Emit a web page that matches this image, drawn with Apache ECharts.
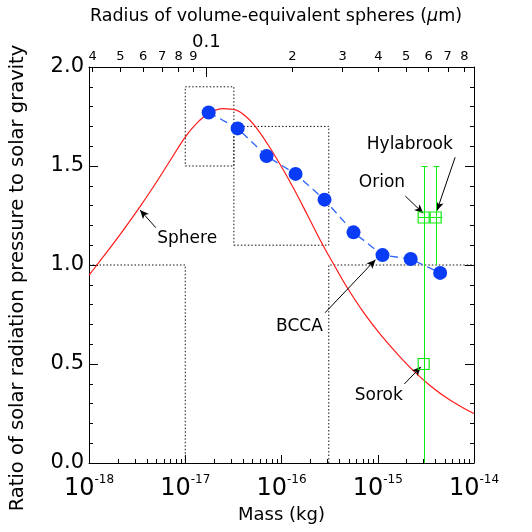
<!DOCTYPE html>
<html>
<head>
<meta charset="utf-8">
<script src="https://cdn.jsdelivr.net/npm/echarts@6.0.0/dist/echarts.min.js"></script>
<style>
html, body { margin: 0; padding: 0; background: #fff; }
#chart { width: 532px; height: 532px; }
</style>
</head>
<body>
<div id="chart"></div>
<script>
// sphere curve (mass in kg, ratio)
var sphereMass = [1.0e-18, 1.21e-18, 2.11e-18, 3.39e-18, 4.67e-18, 6.92e-18, 1.03e-17, 1.41e-17,
    1.73e-17, 2.47e-17, 3.39e-17, 4.27e-17, 5.24e-17, 7.19e-17, 9.89e-17, 1.36e-16, 1.87e-16,
    2.56e-16, 3.52e-16, 4.83e-16, 7.18e-16, 1.07e-15, 1.59e-15, 2.36e-15, 3.51e-15, 5.22e-15,
    7.74e-15, 1.0e-14];
var sphereRatio = [0.949, 1.0, 1.155, 1.295, 1.395, 1.525, 1.655, 1.73,
    1.765, 1.79, 1.782, 1.75, 1.705, 1.61, 1.5, 1.38, 1.25,
    1.12, 1.0, 0.885, 0.758, 0.648, 0.552, 0.465, 0.39, 0.328,
    0.278, 0.25];

// BCCA aggregates
var bccaMass = [1.75e-17, 3.5e-17, 7.0e-17, 1.4e-16, 2.8e-16, 5.6e-16, 1.12e-15, 2.2e-15, 4.45e-15];
var bccaRatio = [1.77, 1.69, 1.55, 1.46, 1.33, 1.165, 1.05, 1.03, 0.96];

// meteoroid estimates
var targetNames = ['Orion', 'Hylabrook', 'Sorok'];
var targetMass = [3.0e-15, 4.0e-15, 3.0e-15];
var targetRatio = [1.24, 1.24, 0.5];
var targetLow = [0, 1.0, null];
var targetHigh = [1.5, 1.5, null];
var targetMassLow = [2.65e-15, 3.55e-15, null];
var targetMassHigh = [3.5e-15, 4.7e-15, null];

// dotted regions
var regionA_mass = [1e-18, 1e-17, 1e-17];
var regionA_ratio = [1.0, 1.0, 0];
var boxB_mass = [1e-17, 3.2e-17, 3.2e-17, 1e-17, 1e-17];
var boxB_ratio = [1.5, 1.5, 1.9, 1.9, 1.5];
var boxC_mass = [3.2e-17, 3.1e-16, 3.1e-16, 3.2e-17, 3.2e-17];
var boxC_ratio = [1.1, 1.1, 1.7, 1.7, 1.1];
var regionD_mass = [3.1e-16, 3.1e-16, 1e-14];
var regionD_ratio = [0, 1.0, 1.0];

// axes
var massDecades = [-18, -17, -16, -15, -14];
var radiusTicks = [0.04, 0.05, 0.06, 0.07, 0.08, 0.09, 0.1, 0.2, 0.3, 0.4, 0.5, 0.6, 0.7, 0.8];

// annotations [text, textX, textY, fromX, fromY, toX, toY]  (x = log10 mass)
var notes = [
    ['Sphere', -16.98, 1.131, -17.305, 1.188, -17.47, 1.278],
    ['BCCA', -15.814, 0.688, -15.547, 0.759, -15.023, 1.027],
    ['Orion', -14.956, 1.414, -14.713, 1.348, -14.527, 1.261],
    ['Hylabrook', -14.667, 1.606, -14.196, 1.544, -14.386, 1.274],
    ['Sorok', -14.989, 0.343, -14.724, 0.399, -14.551, 0.486]
];

var FONT = 'DejaVu Sans';
var GREEN = '#10ec10';

function lg(v) { return Math.log10(v); }
function pairs(xs, ys) {
    return xs.map(function(x, i) { return [lg(x), ys[i]]; });
}
function crisp(v) { return Math.round(v) + 0.5; }

var minorMass = [];
massDecades.slice(0, -1).forEach(function(d) {
    for (var k = 2; k <= 9; k++) minorMass.push(d + lg(k));
});

var errData = [], hbarData = [];
targetNames.forEach(function(n, i) {
    if (targetLow[i] != null) errData.push([lg(targetMass[i]), targetLow[i], targetHigh[i]]);
    if (targetMassLow[i] != null) hbarData.push([lg(targetMassLow[i]), lg(targetMassHigh[i]), targetRatio[i]]);
});

var myChart = echarts.init(document.getElementById('chart'));

function dotted(name, xs, ys) {
    return {
        name: name, type: 'line', data: pairs(xs, ys), symbol: 'none',
        lineStyle: { color: '#111', width: 1, type: [1.5, 2] },
        silent: true, z: 1
    };
}

var option = {
    animation: false,
    textStyle: { fontFamily: FONT },
    title: {
        text: 'Radius of volume-equivalent spheres ({i|μ}m)',
        left: 271, top: 2, textAlign: 'center',
        textStyle: {
            fontFamily: FONT, fontSize: 17.5, fontWeight: 'normal', color: '#000',
            rich: { i: { fontFamily: FONT, fontSize: 17.5, fontStyle: 'italic', color: '#000' } }
        }
    },
    grid: { left: 87, right: 58, top: 67, bottom: 69 },
    xAxis: [{
        type: 'value', position: 'bottom', min: -18, max: -14,
        name: 'Mass (kg)', nameLocation: 'middle', nameGap: 43,
        nameTextStyle: { fontFamily: FONT, fontSize: 18, color: '#000' },
        axisLine: { lineStyle: { color: '#000', width: 1 } },
        axisTick: { inside: true, length: 8, customValues: massDecades, lineStyle: { color: '#000' } },
        axisLabel: {
            customValues: massDecades, margin: 12, color: '#000',
            formatter: function(v) { return '{b|10}{s|' + v + '}'; },
            rich: {
                b: { fontFamily: FONT, fontSize: 24, lineHeight: 26, verticalAlign: 'bottom', color: '#000' },
                s: { fontFamily: FONT, fontSize: 12, lineHeight: 12, padding: [0, 0, 15, 0], verticalAlign: 'bottom', color: '#000' }
            }
        },
        splitLine: { show: false }
    }, {
        type: 'value', position: 'bottom', min: -18, max: -14,
        axisLine: { show: false },
        axisTick: { inside: true, length: 4, customValues: minorMass, lineStyle: { color: '#000' } },
        axisLabel: { show: false },
        splitLine: { show: false }
    }, {
        type: 'value', position: 'top', min: -1.411, max: -0.063,
        axisLine: { lineStyle: { color: '#000', width: 1 } },
        axisTick: { inside: true, length: 5, customValues: radiusTicks.map(lg), lineStyle: { color: '#000' } },
        axisLabel: {
            customValues: radiusTicks.map(lg), margin: 4, color: '#000',
            formatter: function(v) {
                var r = Math.pow(10, v);
                if (Math.abs(r - 0.1) < 1e-6) return '{big|0.1}';
                var d = Math.round(r / Math.pow(10, Math.floor(v + 1e-9)));
                return '{s|' + d + '}';
            },
            rich: {
                s: { fontFamily: FONT, fontSize: 13, color: '#000' },
                big: { fontFamily: FONT, fontSize: 18, color: '#000', padding: [0, 0, 12, 0] }
            }
        },
        splitLine: { show: false }
    }, {
        type: 'value', position: 'top', min: -1.411, max: -0.063,
        axisLine: { show: false },
        axisTick: { inside: true, length: 10, customValues: [-1], lineStyle: { color: '#000' } },
        axisLabel: { show: false },
        splitLine: { show: false }
    }],
    yAxis: [{
        type: 'value', position: 'left', min: 0, max: 2, interval: 0.5,
        name: 'Ratio of solar radiation pressure to solar gravity',
        nameLocation: 'middle', nameGap: 61, nameRotate: 90,
        nameTextStyle: { fontFamily: FONT, fontSize: 19.5, color: '#000', padding: [0, 26, 0, 0] },
        axisLine: { show: true, lineStyle: { color: '#000', width: 1 } },
        axisTick: { show: true, inside: true, length: 9, lineStyle: { color: '#000' } },
        minorTick: { show: true, splitNumber: 5, length: 4, lineStyle: { color: '#000' } },
        axisLabel: { fontFamily: FONT, fontSize: 21, color: '#000', margin: 5,
            formatter: function(v) { return v.toFixed(1); } },
        splitLine: { show: false }
    }, {
        type: 'value', position: 'right', min: 0, max: 2, interval: 0.5,
        axisLine: { show: true, lineStyle: { color: '#000', width: 1 } },
        axisTick: { show: true, inside: true, length: 9, lineStyle: { color: '#000' } },
        minorTick: { show: true, splitNumber: 5, length: 4, lineStyle: { color: '#000' } },
        axisLabel: { show: false },
        splitLine: { show: false }
    }],
    series: [
        dotted('regionA', regionA_mass, regionA_ratio),
        dotted('boxB', boxB_mass, boxB_ratio),
        dotted('boxC', boxC_mass, boxC_ratio),
        dotted('regionD', regionD_mass, regionD_ratio),
        {
            name: 'Sphere', type: 'line', data: pairs(sphereMass, sphereRatio),
            symbol: 'none', smooth: 0.4,
            lineStyle: { color: '#ff1a1a', width: 1.2 }, z: 3
        },
        {
            name: 'BCCA', type: 'line', data: pairs(bccaMass, bccaRatio),
            symbol: 'circle', symbolSize: 14,
            itemStyle: { color: '#0a3cf5' },
            lineStyle: { color: '#2f66ff', width: 1.3, type: [8, 5] }, z: 4
        },
        {
            name: 'errors', type: 'custom', data: errData, z: 5,
            renderItem: function(params, api) {
                var x = api.value(0);
                var lo = api.coord([x, api.value(1)]);
                var hi = api.coord([x, api.value(2)]);
                var px = crisp(lo[0]), top = crisp(hi[1]);
                return {
                    type: 'group', children: [
                        { type: 'line', shape: { x1: px, y1: lo[1], x2: px, y2: top }, style: { stroke: GREEN, lineWidth: 1 } },
                        { type: 'line', shape: { x1: px - 3, y1: top, x2: px + 3, y2: top }, style: { stroke: GREEN, lineWidth: 1 } }
                    ]
                };
            }
        },
        {
            name: 'massErrors', type: 'custom', data: hbarData, z: 5,
            renderItem: function(params, api) {
                var a = api.coord([api.value(0), api.value(2)]);
                var b = api.coord([api.value(1), api.value(2)]);
                var py = crisp(a[1]);
                return { type: 'line', shape: { x1: a[0], y1: py, x2: b[0], y2: py }, style: { stroke: GREEN, lineWidth: 1 } };
            }
        },
        {
            name: 'targets', type: 'scatter', z: 6,
            data: targetNames.map(function(n, i) { return { name: n, value: [lg(targetMass[i]), targetRatio[i]] }; }),
            symbol: 'rect', symbolSize: 11,
            itemStyle: { color: 'rgba(0,0,0,0)', borderColor: GREEN, borderWidth: 1.2, opacity: 1 }
        },
        {
            name: 'notes', type: 'scatter', z: 7, symbolSize: 0, silent: true,
            data: notes.map(function(n) { return { name: n[0], value: [n[1], n[2]] }; }),
            itemStyle: { opacity: 1 },
            label: { show: true, position: 'inside', formatter: '{b}', fontFamily: FONT, fontSize: 17, color: '#000' },
            markLine: {
                silent: true, symbol: ['none', 'arrow'], symbolSize: [6, 9],
                lineStyle: { color: '#000', width: 1, type: 'solid' },
                label: { show: false },
                data: notes.map(function(n) { return [{ coord: [n[3], n[4]] }, { coord: [n[5], n[6]] }]; })
            }
        }
    ]
};

myChart.setOption(option);

window.addEventListener('resize', function() {
    myChart.resize();
});
</script>
</body>
</html>
